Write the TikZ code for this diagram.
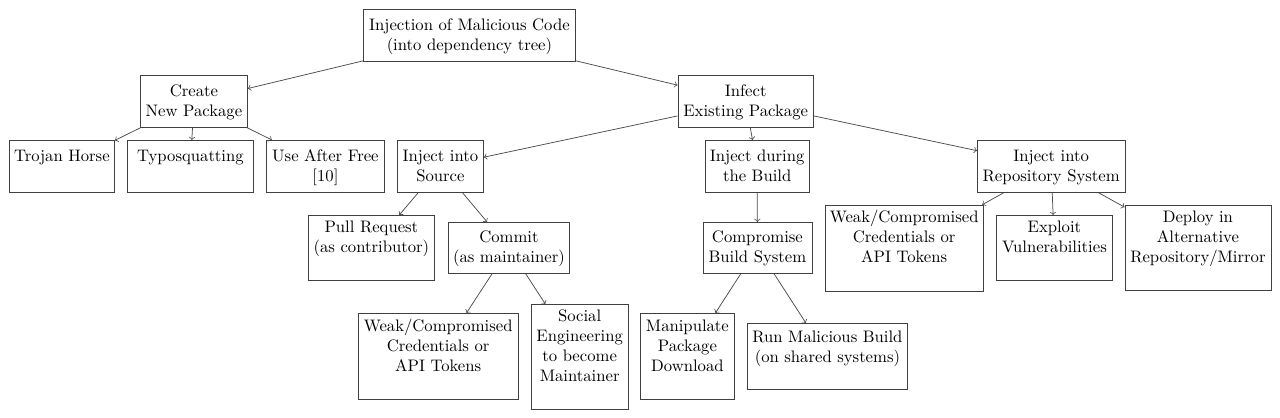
\documentclass[tikz,border=0pt]{standalone}
\newlength\pxu
\setlength\pxu{0.6pt}
\newcommand\bt[4]{\parbox[t][#2\pxu][t]{#1\pxu}{\centering\rule{0pt}{#3\pxu}#4}}
\tikzset{
  box/.style={draw=black!75, line width=0.5pt, inner sep=0pt, anchor=north west},
  conn/.style={draw=black!70, line width=0.45pt, ->},
}
\begin{document}
\begin{tikzpicture}[x=0.6pt,y=-0.6pt]
\useasboundingbox (0,0) rectangle (1280,417);
% level 0
\node[box] (root) at (363,9) {\bt{212}{52}{21}{Injection of Malicious Code\\(into dependency tree)}};
% level 1
\node[box] (create) at (140,75) {\bt{107}{52}{20.7}{Create\\New Package}};
\node[box] (infect) at (677.5,75) {\bt{135.5}{52}{20.7}{Infect\\Existing Package}};
% level 2
\node[box] (trojan) at (9,140) {\bt{105}{52}{20.7}{Trojan Horse}};
\node[box] (typo) at (127,140) {\bt{126}{52}{20.7}{Typosquatting}};
\node[box] (uaf) at (266,140) {\bt{118}{52}{20.7}{Use After Free\\{}[10]}};
\node[box] (source) at (397,140) {\bt{86}{52}{20.7}{Inject into\\Source}};
\node[box] (build) at (704.5,140) {\bt{104.5}{52}{21}{Inject during\\the Build}};
\node[box] (repo) at (977,140) {\bt{147.5}{52}{20.7}{Inject into\\Repository System}};
% level 3
\node[box] (pull) at (308,215) {\bt{126}{65}{17.3}{Pull Request\\(as contributor)}};
\node[box] (commit) at (448,222) {\bt{121}{51}{19.7}{Commit\\(as maintainer)}};
\node[box] (compromise) at (702.5,222) {\bt{109}{51}{20.3}{Compromise\\Build System}};
\node[box] (weakr) at (824.5,204.7) {\bt{158.5}{86}{17}{Weak/Compromised\\Credentials or\\API Tokens}};
\node[box] (exploit) at (996,215) {\bt{116}{65}{17.3}{Exploit\\Vulnerabilities}};
\node[box] (deploy) at (1124.5,204.7) {\bt{146}{85.5}{17}{Deploy in\\Alternative\\Repository/Mirror}};
% level 4
\node[box] (weakc) at (358,313) {\bt{159.5}{86}{18}{Weak/Compromised\\Credentials or\\API Tokens}};
\node[box] (social) at (530.5,304) {\bt{97.5}{105}{17}{Social\\Engineering\\to become\\Maintainer}};
\node[box] (manip) at (640,313) {\bt{94}{86}{17.7}{Manipulate\\Package\\Download}};
\node[box] (run) at (747,323) {\bt{160}{66}{18.7}{Run Malicious Build\\(on shared systems)}};
% connectors
\draw[conn] (root) -- (create);
\draw[conn] (root) -- (infect);
\draw[conn] (create) -- (trojan);
\draw[conn] (create) -- (typo);
\draw[conn] (create) -- (uaf);
\draw[conn] (infect) -- (source);
\draw[conn] (infect) -- (build);
\draw[conn] (infect) -- (repo);
\draw[conn] (source) -- (pull);
\draw[conn] (source) -- (commit);
\draw[conn] (commit) -- (weakc);
\draw[conn] (commit) -- (social);
\draw[conn] (build) -- (compromise);
\draw[conn] (compromise) -- (manip);
\draw[conn] (compromise) -- (run);
\draw[conn] (repo) -- (weakr);
\draw[conn] (repo) -- (exploit);
\draw[conn] (repo) -- (deploy);
\end{tikzpicture}
\end{document}
